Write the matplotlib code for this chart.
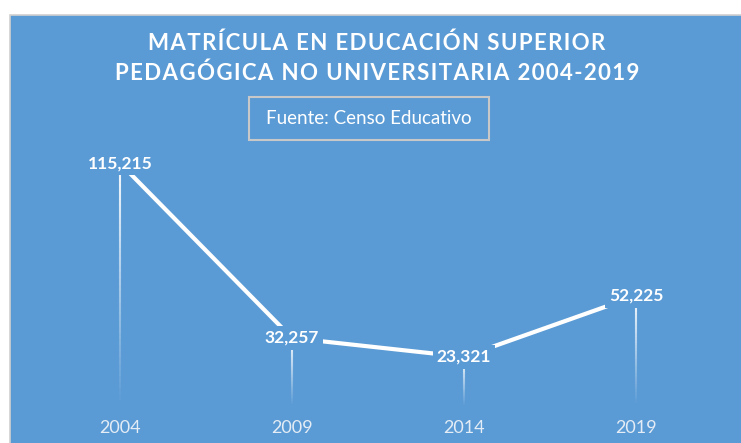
import matplotlib
matplotlib.use("Agg")
import matplotlib.pyplot as plt
import numpy as np
from matplotlib.patches import Rectangle
from matplotlib.collections import LineCollection

years = ["2004", "2009", "2014", "2019"]
matricula = [115215, 32257, 23321, 52225]

title_lines = ["MATRÍCULA EN EDUCACIÓN SUPERIOR", "PEDAGÓGICA NO UNIVERSITARIA 2004-2019"]
subtitle = "Fuente: Censo Educativo"

blue = "#5B9BD5"
plt.rcParams["font.family"] = ["Lato", "DejaVu Sans"]

fig = plt.figure(figsize=(7.41, 4.43), dpi=100)
fig.patch.set_facecolor("white")

# blue panel with thin grey edge, leaving a white strip top/left
fig.patches.append(Rectangle((10 / 741, -0.05), 1.1, 1.05 - 15 / 443, transform=fig.transFigure,
                             facecolor=blue, edgecolor="#D0D0D0", linewidth=1.2, zorder=-1))

ax = fig.add_axes([34 / 741, 37 / 443, 688 / 741, 274 / 443])
ax.set_zorder(1)
ax.set_facecolor("none")
x = np.arange(len(years))
ax.set_xlim(-0.5, 3.5)
ax.set_ylim(0, 130000)

ax.plot(x, matricula, color="white", linewidth=3, solid_capstyle="butt", zorder=2)

# drop lines fading towards the axis
n = 40
for xi, v in zip(x, matricula):
    ys = np.linspace(v, 0, n + 1)
    segs = [[(xi, ys[i]), (xi, ys[i + 1])] for i in range(n)]
    alphas = np.linspace(0.95, 0.0, n)
    cols = [(1, 1, 1, a) for a in alphas]
    ax.add_collection(LineCollection(segs, colors=cols, linewidths=1.5, zorder=1))

for xi, v in zip(x, matricula):
    ax.text(xi, v, f"{v:,}", ha="center", va="center", color="white",
            fontsize=12.5, fontweight="bold", zorder=3,
            bbox=dict(facecolor=blue, edgecolor="none", pad=3))

ax.set_xticks(x, labels=years)
ax.set_yticks([])
ax.tick_params(axis="x", length=0, pad=10, labelsize=13, labelcolor="#E4ECF5")
for s in ax.spines.values():
    s.set_visible(False)

# letter-spaced title (hair spaces between characters)
hair = "\u200a"
for line, ypx in zip(title_lines, [43, 73]):
    fig.text(377 / 741, 1 - ypx / 443, hair.join(line), ha="center", va="center",
             color="white", fontsize=16, fontweight="bold")

fig.patches.append(Rectangle((249 / 741, 1 - 140 / 443), 240 / 741, 43 / 443,
                             transform=fig.transFigure, facecolor="none",
                             edgecolor="#C8C8C8", linewidth=1.5, zorder=2))
fig.text(369 / 741, 1 - 118 / 443, subtitle, ha="center", va="center", color="white",
         fontsize=13.5)

fig.savefig("out.png", dpi=100, facecolor=fig.get_facecolor())
